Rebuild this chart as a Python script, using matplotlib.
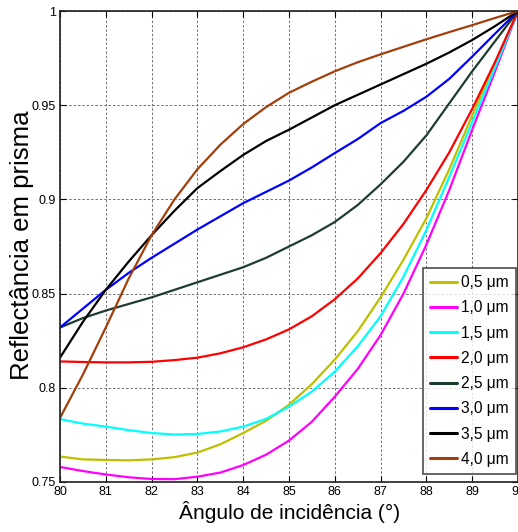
import matplotlib
matplotlib.use("Agg")
import matplotlib.pyplot as plt
from matplotlib import font_manager

# Pick a narrow sans if present, else a regular one
names = {f.name for f in font_manager.fontManager.ttflist}
FONT = "Liberation Sans Narrow" if "Liberation Sans Narrow" in names else "Liberation Sans"
plt.rcParams["font.family"] = [FONT, "DejaVu Sans"]

# Incidence angle (degrees)
angle = [80.0, 80.5, 81.0, 81.5, 82.0, 82.5, 83.0, 83.5, 84.0, 84.5, 85.0,
         85.5, 86.0, 86.5, 87.0, 87.5, 88.0, 88.5, 89.0, 89.5, 90.0]

# Reflectance for each film thickness
r_05 = [0.7635, 0.762, 0.7617, 0.7615, 0.762, 0.7632, 0.7656, 0.770, 0.776, 0.7825, 0.791,
        0.802, 0.815, 0.830, 0.848, 0.868, 0.890, 0.916, 0.9445, 0.972, 1.0]
r_10 = [0.758, 0.7558, 0.754, 0.7525, 0.7516, 0.7515, 0.7528, 0.755, 0.759, 0.7645, 0.772,
        0.782, 0.7953, 0.810, 0.828, 0.850, 0.876, 0.905, 0.937, 0.968, 1.0]
r_15 = [0.7834, 0.781, 0.7794, 0.7775, 0.776, 0.7752, 0.7755, 0.7768, 0.7794, 0.7835, 0.790,
        0.798, 0.8086, 0.822, 0.838, 0.859, 0.8838, 0.912, 0.941, 0.970, 1.0]
r_20 = [0.814, 0.8137, 0.8135, 0.8135, 0.8138, 0.8147, 0.816, 0.8183, 0.8215, 0.8257, 0.831,
        0.838, 0.847, 0.858, 0.8715, 0.887, 0.905, 0.925, 0.948, 0.973, 1.0]
r_25 = [0.832, 0.837, 0.841, 0.8445, 0.848, 0.852, 0.856, 0.860, 0.864, 0.869, 0.875,
        0.881, 0.888, 0.897, 0.908, 0.920, 0.934, 0.951, 0.968, 0.984, 1.0]
r_30 = [0.832, 0.842, 0.852, 0.861, 0.869, 0.8765, 0.884, 0.891, 0.898, 0.904, 0.910,
        0.917, 0.9246, 0.932, 0.9405, 0.947, 0.9545, 0.964, 0.9758, 0.988, 1.0]
r_35 = [0.816, 0.835, 0.852, 0.867, 0.881, 0.894, 0.906, 0.915, 0.9236, 0.931, 0.937,
        0.9435, 0.950, 0.9555, 0.961, 0.9665, 0.972, 0.978, 0.9846, 0.992, 1.0]
r_40 = [0.784, 0.807, 0.832, 0.858, 0.881, 0.900, 0.916, 0.929, 0.940, 0.949, 0.9566,
        0.9625, 0.968, 0.9728, 0.977, 0.981, 0.985, 0.9888, 0.9925, 0.9963, 1.0]

labels = ["0,5 \u03bcm", "1,0 \u03bcm", "1,5 \u03bcm", "2,0 \u03bcm",
          "2,5 \u03bcm", "3,0 \u03bcm", "3,5 \u03bcm", "4,0 \u03bcm"]
series = [r_05, r_10, r_15, r_20, r_25, r_30, r_35, r_40]
colors = ["#bfbf00", "#ff00ff", "#00ffff", "#ff0000",
          "#1f3d2c", "#0000ff", "#000000", "#a23f0c"]

x_ticks = [80, 81, 82, 83, 84, 85, 86, 87, 88, 89, 90]
y_ticks = [0.75, 0.8, 0.85, 0.9, 0.95, 1.0]
y_tick_labels = ["0.75", "0.8", "0.85", "0.9", "0.95", "1"]

W, H = 518, 532
fig = plt.figure(figsize=(W / 100, H / 100), dpi=100)
ax = fig.add_axes([60 / W, (H - 482) / H, 458 / W, 471 / H])

for y, c, lab in zip(series, colors, labels):
    ax.plot(angle, y, color=c, lw=1.6, label=lab, solid_capstyle="round")

ax.set_xlim(80, 90)
ax.set_ylim(0.75, 1.0)
ax.set_xticks(x_ticks)
ax.set_xticklabels([str(t) for t in x_ticks])
ax.set_yticks(y_ticks)
ax.set_yticklabels(y_tick_labels)
ax.tick_params(direction="in", length=4, width=0.8, labelsize=9,
               top=True, right=True, pad=3)
ax.grid(True, color="#707070", linestyle=(0, (2.5, 2)), linewidth=0.7)
for s in ax.spines.values():
    s.set_linewidth(1.2)
    s.set_color("#202020")

ax.set_xlabel("\u00c2ngulo de incid\u00eancia (\u00b0)", fontsize=15)
ax.xaxis.set_label_coords(0.502, -0.040)
ax.set_ylabel("Reflect\u00e2ncia em prisma", fontsize=18.5)
ax.yaxis.set_label_coords(-0.057, 0.503)

leg = ax.legend(loc="upper left", bbox_to_anchor=(423 / W, 1 - 268 / H),
                bbox_transform=fig.transFigure, fontsize=11.2, frameon=True,
                fancybox=False, edgecolor="#202020", handlelength=1.75,
                handletextpad=0.25, labelspacing=0.66, borderpad=0.45,
                borderaxespad=0)
leg.get_frame().set_linewidth(1.2)
for ln in leg.get_lines():
    ln.set_linewidth(2.2)

fig.savefig("out.png", dpi=100)
